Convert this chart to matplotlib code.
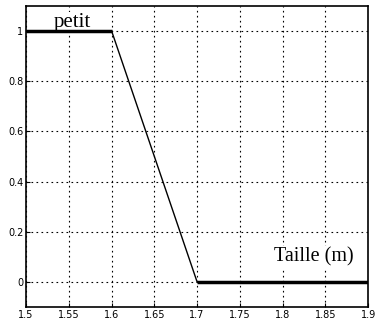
import matplotlib
matplotlib.use("Agg")
import matplotlib.pyplot as plt

# Fonction d'appartenance "petit"
taille = [1.5, 1.6, 1.7, 1.9]
appartenance = [1, 1, 0, 0]

xticks = [1.5, 1.55, 1.6, 1.65, 1.7, 1.75, 1.8, 1.85, 1.9]
xlabels = ["1.5", "1.55", "1.6", "1.65", "1.7", "1.75", "1.8", "1.85", "1.9"]
yticks = [0, 0.2, 0.4, 0.6, 0.8, 1]
ylabels = ["0", "0.2", "0.4", "0.6", "0.8", "1"]

fig = plt.figure(figsize=(3.78, 3.26), dpi=100)
ax = fig.add_axes([0.069, 0.058, 0.905, 0.924])

# pente fine, paliers épais (au-dessus des étiquettes)
ax.plot(taille, appartenance, color="black", lw=1.0, zorder=6)
ax.plot(taille[:2], appartenance[:2], color="black", lw=2.5,
        solid_capstyle="butt", zorder=6)
ax.plot(taille[2:], appartenance[2:], color="black", lw=2.5,
        solid_capstyle="butt", zorder=6)

ax.set_xlim(1.5, 1.9)
ax.set_ylim(-0.1, 1.1)
ax.set_xticks(xticks)
ax.set_xticklabels(xlabels, fontsize=7)
ax.set_yticks(yticks)
ax.set_yticklabels(ylabels, fontsize=7)
ax.tick_params(length=3, direction="in", pad=2)
ax.grid(True, color="black", linestyle=(0, (1.5, 3)), lw=0.8)

for s in ax.spines.values():
    s.set_linewidth(1.2)

boite = dict(facecolor="white", edgecolor="none", pad=1)
ax.text(1.554, 1.014, "petit", family="Liberation Serif", fontsize=15,
        ha="center", va="baseline", bbox=boite, clip_on=False, zorder=5)
ax.text(1.837, 0.1, "Taille (m)", family="Liberation Serif", fontsize=14.5,
        ha="center", va="center", bbox=boite, zorder=5)

fig.savefig("out.png", dpi=100)
